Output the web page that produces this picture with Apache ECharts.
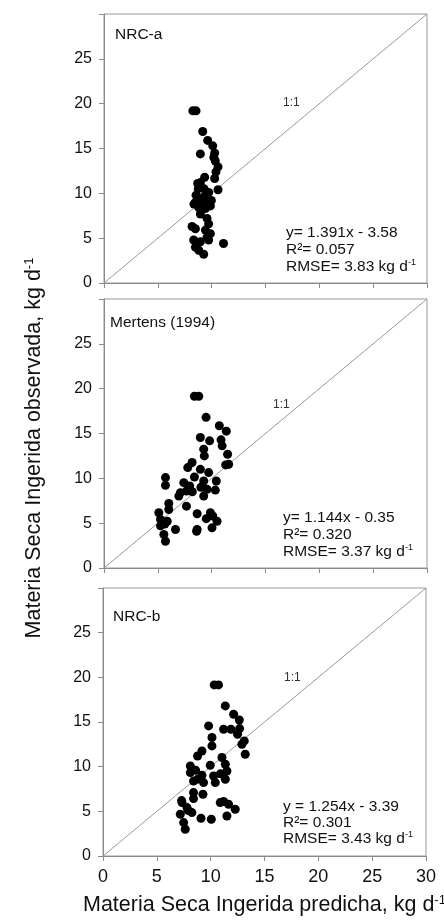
<!DOCTYPE html>
<html>
<head>
<meta charset="utf-8">
<script src="https://cdn.jsdelivr.net/npm/echarts@6/dist/echarts.min.js"></script>
<style>
html,body{margin:0;padding:0;background:#fff;}
#chart{width:444px;height:923px;}
</style>
</head>
<body>
<div id="chart"></div>
<script>
// ---- Data ----
var panelNames = ['NRC-a', 'Mertens (1994)', 'NRC-b'];
var xTicks = [0, 5, 10, 15, 20, 25, 30];
var yTicks = [0, 5, 10, 15, 20, 25];
var identityLine = [[0, 0], [30, 30]];

var nrcaPoints = [[8.25,19.2],[8.55,19.2],[9.17,16.9],[9.63,15.9],[10.1,15.3],[8.95,14.4],[10.28,14.5],[10.2,14.0],[10.34,13.6],[10.59,12.95],[10.4,12.4],[10.28,11.65],[9.35,11.8],[8.95,11.2],[8.7,11.1],[10.59,10.4],[8.75,10.5],[8.55,9.8],[9.26,9.6],[9.72,10.1],[8.49,9.0],[9.05,8.9],[9.57,9.0],[9.97,9.2],[8.8,8.4],[9.42,8.3],[9.88,8.6],[8.35,8.8],[8.95,7.7],[9.57,7.2],[9.72,6.6],[8.18,6.3],[8.49,6.05],[9.42,5.9],[9.88,5.5],[9.57,5.1],[8.33,4.8],[8.95,4.6],[9.72,4.8],[11.1,4.4],[8.49,4.0],[8.8,3.65],[9.26,3.2],[9.1,9.4],[9.3,10.5]];

var mertensPoints = [[8.4,19.15],[8.8,19.15],[9.48,16.8],[10.71,15.86],[11.36,15.26],[8.95,14.56],[9.81,14.18],[10.87,14.29],[10.97,13.62],[9.26,13.25],[9.32,12.5],[11.48,12.69],[11.58,11.57],[11.3,11.5],[8.18,11.76],[7.78,11.2],[8.95,11.0],[9.72,10.64],[5.71,10.08],[8.4,10.15],[5.71,9.22],[7.41,9.52],[9.26,9.7],[10.43,9.7],[7.96,9.14],[9.0,9.0],[7.1,8.4],[7.66,8.58],[9.57,8.77],[10.34,8.69],[6.95,8.02],[9.26,8.02],[8.2,8.5],[6.02,7.2],[7.66,6.9],[6.02,6.53],[5.09,6.16],[8.65,6.05],[9.88,6.16],[10.1,5.8],[5.25,5.41],[5.87,5.22],[10.5,5.22],[9.5,5.5],[6.64,4.29],[8.65,4.29],[10.03,4.48],[5.25,4.7],[5.56,3.73],[5.71,2.98],[5.65,4.9],[8.6,4.1]];

var nrcbPoints = [[10.33,19.15],[10.73,19.15],[11.36,16.8],[12.13,15.87],[12.66,15.23],[9.81,14.56],[11.2,14.19],[11.88,14.19],[12.69,14.26],[12.5,13.63],[10.12,13.26],[10.12,12.32],[13.12,12.88],[12.9,12.5],[13.21,11.39],[9.19,11.76],[8.78,11.2],[11.05,11.02],[8.11,10.08],[9.96,10.16],[11.36,10.27],[11.51,9.52],[8.11,9.34],[8.6,9.6],[9.19,9.04],[10.27,8.96],[10.9,9.2],[8.41,8.4],[9.34,8.22],[10.43,8.22],[11.36,8.59],[8.8,8.6],[8.41,7.1],[9.28,6.91],[8.41,6.43],[7.34,5.98],[10.89,5.98],[11.66,5.79],[7.8,5.42],[12.28,5.23],[7.18,4.67],[8.26,4.86],[11.51,4.48],[9.1,4.22],[10.06,4.11],[7.49,3.74],[7.64,2.99],[7.3,6.2],[11.2,6.1],[7.9,5.1]];

var equations = ['y= 1.391x - 3.58', 'y= 1.144x - 0.35', 'y = 1.254x - 3.39'];
var r2Values = ['0.057', '0.320', '0.301'];
var rmseValues = ['3.83', '3.37', '3.43'];

// ---- Layout ----
var FONT = "'Liberation Sans', Arial, sans-serif";
var AX = '#8a8a8a';
var grids = [
  {left: 104, top: 14, width: 323, height: 269},
  {left: 104, top: 299, width: 323, height: 269},
  {left: 103, top: 588, width: 323, height: 268}
];
var allPoints = [nrcaPoints, mertensPoints, nrcbPoints];

var option = {
  animation: false,
  grid: grids.map(function (g) {
    return Object.assign({show: true, borderColor: '#999', borderWidth: 1, backgroundColor: 'transparent'}, g);
  }),
  xAxis: grids.map(function (g, i) {
    return {
      gridIndex: i, type: 'value', min: 0, max: 30, interval: 5,
      axisLine: {show: true, lineStyle: {color: AX, width: 1}},
      axisTick: {show: true, inside: false, length: 5, lineStyle: {color: AX}},
      axisLabel: {show: i === 2, color: '#111', fontSize: 18, fontFamily: FONT, margin: 12},
      splitLine: {show: false}
    };
  }),
  yAxis: grids.map(function (g, i) {
    return {
      gridIndex: i, type: 'value', min: 0, max: 30, interval: 5,
      axisLine: {show: true, lineStyle: {color: AX, width: 1}},
      axisTick: {show: true, inside: false, length: 5, lineStyle: {color: AX}},
      axisLabel: {color: '#111', fontSize: 16, fontFamily: FONT, margin: 12,
        formatter: function (v) { return yTicks.indexOf(v) >= 0 ? String(v) : ''; }},
      splitLine: {show: false}
    };
  }),
  series: [],
  graphic: []
};

allPoints.forEach(function (pts, i) {
  option.series.push({
    type: 'line', xAxisIndex: i, yAxisIndex: i, data: identityLine, z: 1,
    symbol: 'none', lineStyle: {color: '#999', width: 1}, silent: true
  });
  option.series.push({
    type: 'scatter', xAxisIndex: i, yAxisIndex: i, data: pts, z: 3,
    symbol: 'circle', symbolSize: 9, itemStyle: {color: '#000', opacity: 1}
  });
});

var titlePos = [[115, 35], [110, 323], [113, 617]];
var onePos = [[283, 103], [273, 405], [284, 678]];
var eqPos = [[286, [233, 250, 267]], [283, [518, 535, 552]], [283, [807, 823, 839]]];

function txt(x, y, text, size, extra) {
  var o = {type: 'text', x: x, y: y, z: 10, style: Object.assign({text: text, fontSize: size, fontFamily: FONT, fill: '#111', textVerticalAlign: 'middle', textAlign: 'left'}, extra || {})};
  return o;
}

for (var i = 0; i < 3; i++) {
  option.graphic.push(txt(titlePos[i][0], titlePos[i][1], panelNames[i], 15.5));
  option.graphic.push(txt(onePos[i][0], onePos[i][1], '1:1', 12, {fill: '#333'}));
  option.graphic.push(txt(eqPos[i][0], eqPos[i][1][0], equations[i], 15.5));
  option.graphic.push(txt(eqPos[i][0], eqPos[i][1][1], 'R\u00b2= ' + r2Values[i], 15.5));
  option.graphic.push(txt(eqPos[i][0], eqPos[i][1][2], 'RMSE= ' + rmseValues[i] + ' kg d{sup|-1}', 15.5,
    {rich: {sup: {fontSize: 9, fontFamily: FONT, fill: '#111', padding: [0, 0, 8, 0]}}}));
}

option.graphic.push({
  type: 'text', x: 34, y: 448, rotation: Math.PI / 2,
  style: {text: 'Materia Seca Ingerida observada, kg d{sup|-1}', fontSize: 21.5, fontFamily: FONT, fill: '#111',
    textAlign: 'center', textVerticalAlign: 'middle',
    rich: {sup: {fontSize: 13, fontFamily: FONT, fill: '#111', padding: [0, 0, 10, 0]}}}
});
option.graphic.push({
  type: 'text', x: 83, y: 905,
  style: {text: 'Materia Seca Ingerida predicha, kg d{sup|-1}', fontSize: 21.5, fontFamily: FONT, fill: '#111',
    textAlign: 'left', textVerticalAlign: 'middle',
    rich: {sup: {fontSize: 13, fontFamily: FONT, fill: '#111', padding: [0, 0, 10, 0]}}}
});

var chart = echarts.init(document.getElementById('chart'), null, {renderer: 'canvas'});
chart.setOption(option);
</script>
</body>
</html>
